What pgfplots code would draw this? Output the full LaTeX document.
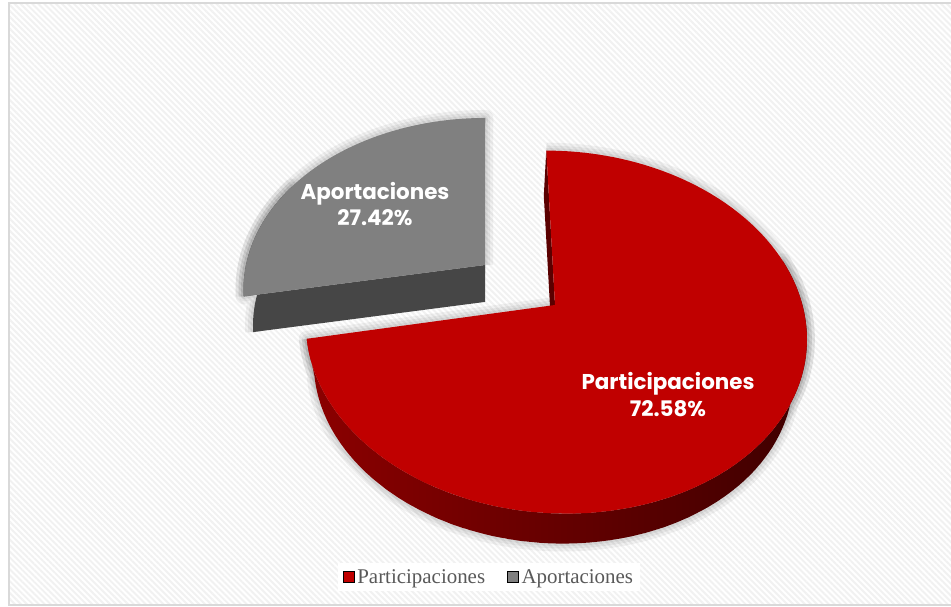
\documentclass[border=0pt]{standalone}
\usepackage{fontspec}
\setmainfont{Liberation Serif}
\newfontfamily\lblfont{Poppins}
\usepackage{pgfplots}
\pgfplotsset{compat=1.18}
\usepackage{pgfplotstable}
\usetikzlibrary{patterns.meta}

\definecolor{redtop}{HTML}{C00000}
\definecolor{redL}{HTML}{8C0000}
\definecolor{redM}{HTML}{4C0000}
\definecolor{redR}{HTML}{3E0000}
\definecolor{redstrip}{HTML}{5A0000}
\definecolor{graytop}{HTML}{808080}
\definecolor{graydark}{HTML}{464646}
\definecolor{legtext}{HTML}{595959}
\definecolor{framec}{HTML}{D9D9D9}
\definecolor{stripe}{HTML}{F1F1F1}

\pgfplotstableread{
label value
Participaciones 72.58
Aportaciones 27.42
}\slicedata

\begin{document}%
\pgfplotstablegetelem{1}{value}\of\slicedata%
\pgfmathsetmacro{\cG}{90+3.6*\pgfplotsretval+1.8}% boundary between slices (view-corrected)
\pgfmathsetmacro{\cR}{\cG-360}%
\pgfmathsetmacro{\sR}{90-\cR}%
\pgfmathsetmacro{\bR}{15-\cR}%
\pgfmathsetmacro{\sG}{\cG-90}%
\pgfmathsetmacro{\bG}{\cG-150}%
\begin{tikzpicture}[declare function={
  wR(\p)=1+0.146*sin(\p);
  xR(\p)=487+(68+247.6*cos(\p))/wR(\p);
  yR(\p)=-911+1216.6/wR(\p);
  xRb(\p)=487+0.957*(xR(\p)-487);
  yRb(\p)=1211-0.957*(1211-yR(\p));
  wG(\p)=1+0.1429*sin(\p);
  xG(\p)=487+(-2+239*cos(\p))/wG(\p);
  yG(\p)=-911+1176/wG(\p);
  xGb(\p)=487+0.961*(xG(\p)-487);
  yGb(\p)=1211-0.961*(1211-yG(\p));
}]
\begin{axis}[
  width=951bp, height=607bp, scale only axis,
  xmin=0, xmax=951, ymin=0, ymax=607, y dir=reverse,
  hide axis,
  legend image code/.code={\fill[#1] (0bp,-5.5bp) rectangle (11bp,5.5bp); \path (12bp,0bp);},
  legend columns=2,
  legend style={at={(axis cs:489,577)}, anchor=center, draw=none, fill=white,
    font=\fontsize{21}{23}\selectfont, text=legtext,
    inner xsep=5bp, inner ysep=4bp,
    /tikz/every even column/.append style={column sep=20bp}},
]
% background
\fill[white] (axis cs:0,0) rectangle (axis cs:951,607);
\fill[pattern={Lines[angle=-45,distance=4.2bp,line width=1.9bp]}, pattern color=stripe]
  (axis cs:9,3) rectangle (axis cs:951,605);
\draw[framec, line width=1.3bp] (axis cs:951,3) -- (axis cs:9,3) -- (axis cs:9,605) -- (axis cs:951,605);

% soft shadows
\pgfplotsinvokeforeach{16,10,5}{
\addplot[forget plot, draw=black, draw opacity=0.05, fill=none, line width=#1bp, line join=round,
  variable=\t, samples at={-1,0,2,...,120}]
 ({ifthenelse(\t<0,485,xG(90+\sG*\t/120))},{ifthenelse(\t<0,265,yG(90+\sG*\t/120))});
\addplot[forget plot, draw=black, draw opacity=0.05, fill=none, line width=#1bp, line join=round,
  variable=\t, samples at={-1,0,2,...,120}]
 ({ifthenelse(\t<0,485,ifthenelse(\t<=60,xG(\cG-\bG*\t/60),ifthenelse(\t<=120,xGb(150+\bG*(\t-60)/60),485.1)))},
  {ifthenelse(\t<0,265,ifthenelse(\t<=60,yG(\cG-\bG*\t/60),ifthenelse(\t<=120,yGb(150+\bG*(\t-60)/60),301.9)))});
\addplot[forget plot, draw=black, draw opacity=0.05, fill=none, line width=#1bp, line join=round,
  variable=\t, samples at={0,4,...,400}]
 ({ifthenelse(\t<=200,xR(\cR+\bR*min(\t,400-\t)/200),xRb(\cR+\bR*min(\t,400-\t)/200))},
  {ifthenelse(\t<=200,yR(\cR+\bR*min(\t,400-\t)/200),yRb(\cR+\bR*min(\t,400-\t)/200))});
\addplot[forget plot, draw=black, draw opacity=0.05, fill=none, line width=#1bp, line join=round,
  variable=\t, samples at={-1,0,3,...,180}]
 ({ifthenelse(\t<0,555,xR(\cR+\sR*\t/180))},{ifthenelse(\t<0,305,yR(\cR+\sR*\t/180))});
}

% Aportaciones slice (exploded): front faces, then top
\addplot[forget plot, draw=none, fill=graydark, variable=\t, samples at={-1,0,1,...,121}]
 ({ifthenelse(\t<0,485,ifthenelse(\t<=60,xG(\cG-\bG*\t/60),ifthenelse(\t<=120,xGb(150+\bG*(\t-60)/60),485.1)))},
  {ifthenelse(\t<0,265,ifthenelse(\t<=60,yG(\cG-\bG*\t/60),ifthenelse(\t<=120,yGb(150+\bG*(\t-60)/60),301.9)))});
\addplot[forget plot, draw=none, fill=graytop, variable=\t, samples at={-1,0,1,...,120}]
 ({ifthenelse(\t<0,485,xG(90+\sG*\t/120))},{ifthenelse(\t<0,265,yG(90+\sG*\t/120))});

% Participaciones slice: side, left radial face, top
\addplot[forget plot, draw=none, left color=redL, middle color=redM, right color=redR,
  variable=\t, samples at={0,1,...,400}]
 ({ifthenelse(\t<=200,xR(\cR+\bR*min(\t,400-\t)/200),xRb(\cR+\bR*min(\t,400-\t)/200))},
  {ifthenelse(\t<=200,yR(\cR+\bR*min(\t,400-\t)/200),yRb(\cR+\bR*min(\t,400-\t)/200))});
\addplot[forget plot, draw=none, fill=redstrip] coordinates {(555,305) (546.3,150) (543.8,195.6) (552.1,344)};
\addplot[forget plot, draw=none, fill=redtop, variable=\t, samples at={-1,0,1,...,180}]
 ({ifthenelse(\t<0,555,xR(\cR+\sR*\t/180))},{ifthenelse(\t<0,305,yR(\cR+\sR*\t/180))});

% data labels
\node[text=white, align=center, font=\lblfont\bfseries\fontsize{21.5}{27}\selectfont]
  at (axis cs:375,204) {Aportaciones\\27.42\%};
\node[text=white, align=center, font=\lblfont\bfseries\fontsize{21.5}{27}\selectfont]
  at (axis cs:668,395) {Participaciones\\72.58\%};

% legend
\addlegendimage{fill=redtop}
\addlegendentry{Participaciones}
\addlegendimage{fill=graytop}
\addlegendentry{Aportaciones}
\end{axis}
\end{tikzpicture}%
\end{document}
